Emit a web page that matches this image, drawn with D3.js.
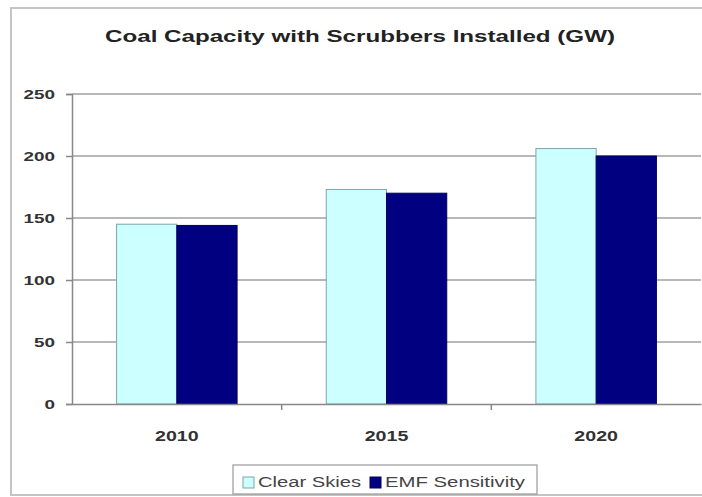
<!DOCTYPE html>
<html>
<head>
<meta charset="utf-8">
<script src="https://cdn.jsdelivr.net/npm/d3@7"></script>
<style>
  html, body { margin: 0; padding: 0; background: #fff; }
  svg { display: block; font-family: Arial, "Liberation Sans", sans-serif; }
</style>
</head>
<body>
<svg id="chart" width="702" height="497"></svg>
<script>
const title = "Coal Capacity with Scrubbers Installed (GW)";
const categories = ["2010", "2015", "2020"];
const seriesNames = ["Clear Skies", "EMF Sensitivity"];
const clearSkies = [145, 173, 206];
const emfSensitivity = [144, 170, 200];
const yTicks = [0, 50, 100, 150, 200, 250];
const colors = ["#ccffff", "#000080"];
const strokes = ["#7fa5a5", "#000060"];

const svg = d3.select("#chart");
const m = { left: 72, right: 701, top: 94, bottom: 404 };

function stretch(sel, sx) {
  sel.each(function () {
    const L = this.getComputedTextLength();
    d3.select(this).attr("textLength", L * sx).attr("lengthAdjust", "spacingAndGlyphs");
  });
  return sel;
}

// outer chart border
svg.append("rect").attr("x", 11).attr("y", 8).attr("width", 700).attr("height", 487)
  .attr("fill", "#fff").attr("stroke", "#c4c4c4").attr("stroke-width", 2);

const x0 = d3.scaleBand().domain(categories).range([m.left, m.right]).paddingInner(0).paddingOuter(0);
const x1 = d3.scaleBand().domain(seriesNames).range([0, x0.bandwidth()]).paddingInner(0).paddingOuter(0.74);
const y = d3.scaleLinear().domain([0, 250]).range([m.bottom, m.top]);

// gridlines
svg.append("g").selectAll("line").data(yTicks.filter(d => d > 0)).join("line")
  .attr("x1", m.left).attr("x2", m.right)
  .attr("y1", d => y(d)).attr("y2", d => y(d))
  .attr("stroke", "#a0a0a0").attr("stroke-width", 1.6);

// bars
const data = categories.map((c, i) => ({ cat: c, vals: [clearSkies[i], emfSensitivity[i]] }));
const groups = svg.append("g").selectAll("g").data(data).join("g")
  .attr("transform", d => `translate(${x0(d.cat)},0)`);
groups.selectAll("rect").data(d => d.vals.map((v, j) => ({ v, j }))).join("rect")
  .attr("x", d => x1(seriesNames[d.j]))
  .attr("width", x1.bandwidth())
  .attr("y", d => y(d.v))
  .attr("height", d => y(0) - y(d.v))
  .attr("fill", d => colors[d.j])
  .attr("stroke", d => strokes[d.j])
  .attr("stroke-width", 1);

// y axis
const yAxis = d3.axisLeft(y).tickValues(yTicks).tickSize(6).tickPadding(11);
const gy = svg.append("g").attr("transform", `translate(${m.left},0)`).call(yAxis);
gy.select(".domain").attr("stroke", "#888").attr("stroke-width", 1.5);
gy.selectAll(".tick line").attr("stroke", "#888").attr("stroke-width", 1.5);
gy.selectAll(".tick text").attr("font-size", 13).attr("font-weight", "bold").attr("fill", "#333")
  .attr("font-family", "Arial, 'Liberation Sans', sans-serif");
stretch(gy.selectAll(".tick text"), 1.45);

// x axis
const xAxis = d3.axisBottom(x0).tickSize(0).tickPadding(27);
const gx = svg.append("g").attr("transform", `translate(0,${m.bottom})`).call(xAxis);
gx.select(".domain").attr("stroke", "#888").attr("stroke-width", 1.5);
gx.selectAll(".tick text").attr("font-size", 14).attr("font-weight", "bold").attr("fill", "#333")
  .attr("font-family", "Arial, 'Liberation Sans', sans-serif");
stretch(gx.selectAll(".tick text"), 1.4);
// category separator ticks
svg.append("g").selectAll("line").data(categories.slice(1)).join("line")
  .attr("x1", d => x0(d)).attr("x2", d => x0(d))
  .attr("y1", m.bottom).attr("y2", m.bottom + 6)
  .attr("stroke", "#888").attr("stroke-width", 1.5);

// title
const t = svg.append("text").attr("x", 360).attr("y", 42).attr("text-anchor", "middle")
  .attr("font-size", 17).attr("font-weight", "bold").attr("fill", "#222").text(title);
t.attr("textLength", 510).attr("lengthAdjust", "spacingAndGlyphs");

// legend
const lg = svg.append("g");
lg.append("rect").attr("x", 233).attr("y", 465).attr("width", 304).attr("height", 29)
  .attr("fill", "#fff").attr("stroke", "#999").attr("stroke-width", 1.2);
const legendX = [243, 370];
const legendW = [103, 140];
seriesNames.forEach((s, i) => {
  lg.append("rect").attr("x", legendX[i]).attr("y", 477).attr("width", 11).attr("height", 11)
    .attr("fill", colors[i]).attr("stroke", strokes[i]).attr("stroke-width", 1);
  lg.append("text").attr("x", legendX[i] + 15).attr("y", 487)
    .attr("font-size", 14).attr("fill", "#444").text(s)
    .attr("textLength", legendW[i]).attr("lengthAdjust", "spacingAndGlyphs");
});
</script>
</body>
</html>
